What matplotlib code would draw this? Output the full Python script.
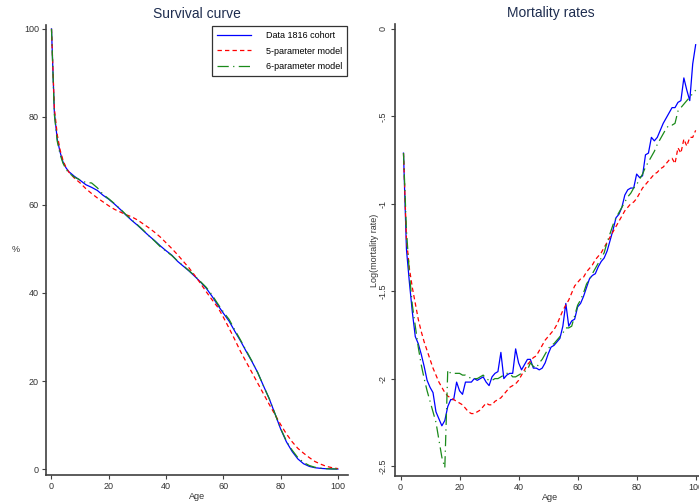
#!/usr/bin/env python3
import matplotlib as mpl
import matplotlib.pyplot as plt
import numpy as np

# survival curve (%)
surv_ages = [0, 1, 2, 3, 4, 5, 6, 8, 10, 12, 14, 16, 18, 20, 22, 24, 26, 28, 30,
             32, 34, 36, 38, 40, 42, 44, 46, 48, 50, 52, 54, 56, 58, 60, 62, 64,
             66, 68, 70, 72, 74, 76, 78, 80, 82, 84, 86, 88, 90, 92, 94, 96, 98, 100]
surv_data = [100, 81, 75, 72, 69.8, 68.5, 67.6, 66.5, 65.6, 64.6, 64.0, 63.3, 62.2,
             61.3, 60.2, 59.0, 57.7, 56.5, 55.4, 54.2, 53.0, 51.9, 50.7, 49.6, 48.6,
             47.2, 46.1, 45.0, 43.8, 42.5, 41.1, 39.3, 37.3, 35.4, 33.6, 31.3, 29.1,
             26.7, 24.4, 21.9, 18.9, 16.0, 12.6, 9.1, 6.2, 4.0, 2.3, 1.2, 0.6, 0.3,
             0.15, 0.06, 0.02, 0.0]
surv_m5 = [100, 82, 76, 72.5, 70.2, 68.6, 67.5, 66.1, 65.0, 63.7, 62.6, 61.6, 60.7,
           59.8, 59.0, 58.4, 57.8, 57.3, 56.6, 55.7, 54.8, 53.8, 52.7, 51.4, 50.1,
           48.7, 47.2, 45.7, 44.0, 42.2, 40.3, 38.5, 36.8, 34.5, 32.0, 29.4, 26.7,
           24.3, 21.9, 19.5, 17.1, 14.7, 12.4, 10.1, 8.0, 6.2, 4.7, 3.6, 2.6, 1.7,
           1.1, 0.6, 0.3, 0.1]
surv_m6 = [100, 80.5, 74.5, 71.5, 69.5, 68.2, 67.3, 66.3, 65.7, 65.1, 65.0, 63.9, 62.4,
           61.4, 60.3, 59.1, 57.8, 56.6, 55.5, 54.3, 53.0, 51.8, 50.5, 49.5, 48.5,
           47.3, 46.2, 45.1, 43.9, 42.6, 41.3, 39.6, 37.6, 35.7, 34.0, 31.6, 29.3,
           26.9, 24.5, 21.9, 18.9, 16.0, 12.6, 9.2, 6.4, 4.3, 2.6, 1.5, 0.8, 0.4,
           0.2, 0.08, 0.03, 0.0]

# log mortality rates, ages 1..100
mort_ages = list(range(1, 101))
mort_data = [-0.71, -1.26, -1.45, -1.62, -1.76, -1.80, -1.86, -1.93, -2.01, -2.05,
             -2.08, -2.19, -2.23, -2.27, -2.24, -2.16, -2.12, -2.12, -2.02, -2.07,
             -2.09, -2.02, -2.02, -2.02, -2.00, -2.01, -2.00, -1.99, -2.02, -2.04,
             -1.99, -1.97, -1.96, -1.85, -2.00, -1.98, -1.97, -1.97, -1.83, -1.91,
             -1.95, -1.92, -1.89, -1.89, -1.94, -1.94, -1.95, -1.94, -1.91, -1.86,
             -1.82, -1.81, -1.79, -1.77, -1.70, -1.57, -1.70, -1.67, -1.66, -1.59,
             -1.57, -1.53, -1.48, -1.43, -1.41, -1.40, -1.36, -1.33, -1.31, -1.27,
             -1.21, -1.15, -1.08, -1.06, -1.02, -0.95, -0.92, -0.91, -0.91, -0.83,
             -0.85, -0.84, -0.72, -0.71, -0.62, -0.64, -0.62, -0.58, -0.54, -0.51,
             -0.48, -0.45, -0.45, -0.42, -0.41, -0.28, -0.35, -0.41, -0.20, -0.09]
mort_m5 = [-0.71, -1.20, -1.37, -1.48, -1.57, -1.66, -1.73, -1.79, -1.84, -1.89,
           -1.94, -1.98, -2.02, -2.05, -2.08, -2.10, -2.11, -2.12, -2.13, -2.14,
           -2.15, -2.17, -2.19, -2.20, -2.20, -2.19, -2.18, -2.16, -2.14, -2.15,
           -2.15, -2.13, -2.12, -2.11, -2.09, -2.07, -2.05, -2.04, -2.03, -2.01,
           -1.98, -1.95, -1.92, -1.90, -1.88, -1.87, -1.84, -1.81, -1.78, -1.76,
           -1.74, -1.72, -1.69, -1.65, -1.61, -1.58, -1.55, -1.51, -1.47, -1.45,
           -1.43, -1.42, -1.39, -1.37, -1.35, -1.32, -1.30, -1.28, -1.25, -1.22,
           -1.19, -1.16, -1.13, -1.10, -1.07, -1.04, -1.02, -1.00, -0.99, -0.97,
           -0.94, -0.91, -0.89, -0.87, -0.85, -0.83, -0.82, -0.80, -0.79, -0.77,
           -0.75, -0.74, -0.77, -0.68, -0.71, -0.63, -0.67, -0.62, -0.62, -0.58]
mort_m6 = [-0.71, -1.15, -1.40, -1.58, -1.70, -1.82, -1.92, -2.00, -2.07, -2.13,
           -2.19, -2.25, -2.35, -2.45, -2.51, -1.95, -1.97, -1.97, -1.97, -1.97,
           -1.98, -1.98, -1.99, -2.00, -2.00, -2.00, -1.99, -1.98, -2.00, -2.01,
           -2.01, -2.00, -2.00, -1.99, -1.98, -1.97, -1.97, -1.99, -1.99, -1.98,
           -1.97, -1.96, -1.95, -1.91, -1.93, -1.94, -1.91, -1.89, -1.86, -1.83,
           -1.81, -1.80, -1.78, -1.76, -1.74, -1.71, -1.71, -1.70, -1.64, -1.58,
           -1.55, -1.51, -1.46, -1.43, -1.40, -1.37, -1.34, -1.31, -1.28, -1.22,
           -1.17, -1.12, -1.08, -1.05, -1.02, -0.99, -0.96, -0.94, -0.91, -0.89,
           -0.86, -0.83, -0.79, -0.76, -0.73, -0.70, -0.66, -0.63, -0.60, -0.57,
           -0.55, -0.55, -0.54, -0.47, -0.45, -0.43, -0.41, -0.39, -0.37, -0.35]

BLUE = '#0000ff'
RED = '#ff0000'
GREEN = '#1a8a1a'
AXCOL = '#404040'
TITLECOL = '#1e2d4f'
DASH5 = (0, (3.5, 2.5))
DASH6 = (0, (9, 3.5, 1, 3.5))


def style_axes(ax):
    ax.spines['top'].set_visible(False)
    ax.spines['right'].set_visible(False)
    for s in ('left', 'bottom'):
        ax.spines[s].set_color(AXCOL)
        ax.spines[s].set_linewidth(1.2)
    ax.tick_params(direction='out', length=3, width=0.8, color=AXCOL,
                   labelsize=6.5, labelcolor='#333333', pad=2)
    ax.set_xticks([0, 20, 40, 60, 80, 100])
    ax.set_xlabel('Age', fontsize=6.5, color='#333333', labelpad=1)


def main():
    mpl.rcParams['font.family'] = ['Liberation Sans', 'DejaVu Sans']
    fig = plt.figure(figsize=(6.99, 5.04), dpi=100)

    ax1 = fig.add_axes([0.0658, 0.0575, 0.432, 0.893])
    ax1.plot(surv_ages, surv_data, color=BLUE, lw=0.9, label='Data 1816 cohort')
    ax1.plot(surv_ages, surv_m5, color=RED, lw=0.9, ls=DASH5, label='5-parameter model')
    ax1.plot(surv_ages, surv_m6, color=GREEN, lw=0.9, ls=DASH6, label='6-parameter model')
    style_axes(ax1)
    ax1.set_xlim(-1.92, 103.5)
    ax1.set_ylim(-1.36, 100.9)
    ax1.set_yticks([0, 20, 40, 60, 80, 100])
    ax1.set_ylabel('%', fontsize=6.5, color='#333333', rotation=0, labelpad=6,
                   va='center')
    ax1.set_title('Survival curve', fontsize=10, color=TITLECOL, pad=5)
    leg = ax1.legend(loc='upper right', fontsize=6.5, frameon=True, fancybox=False,
                     handlelength=3.8, handletextpad=1.6, labelspacing=0.75,
                     borderpad=0.55, borderaxespad=0.1)
    leg.get_frame().set_edgecolor('black')
    leg.get_frame().set_linewidth(0.9)

    ax2 = fig.add_axes([0.565, 0.0556, 0.445, 0.897])
    ax2.plot(mort_ages, mort_data, color=BLUE, lw=0.9)
    ax2.plot(mort_ages, mort_m5, color=RED, lw=0.9, ls=DASH5)
    ax2.plot(mort_ages, mort_m6, color=GREEN, lw=0.9, ls=DASH6)
    style_axes(ax2)
    ax2.set_xlim(-1.9, 103.5)
    ax2.set_ylim(-2.557, 0.029)
    ax2.set_yticks([0, -0.5, -1, -1.5, -2, -2.5])
    ax2.set_yticklabels(['0', '-.5', '-1', '-1.5', '-2', '-2.5'])
    for lab in ax2.get_yticklabels():
        lab.set_rotation(90)
        lab.set_va('center')
    ax2.set_ylabel('Log(mortality rate)', fontsize=6.5, color='#333333', labelpad=0)
    ax2.set_title('Mortality rates', fontsize=10, color=TITLECOL, pad=5)

    fig.savefig('out.png', dpi=100)


if __name__ == '__main__':
    main()
